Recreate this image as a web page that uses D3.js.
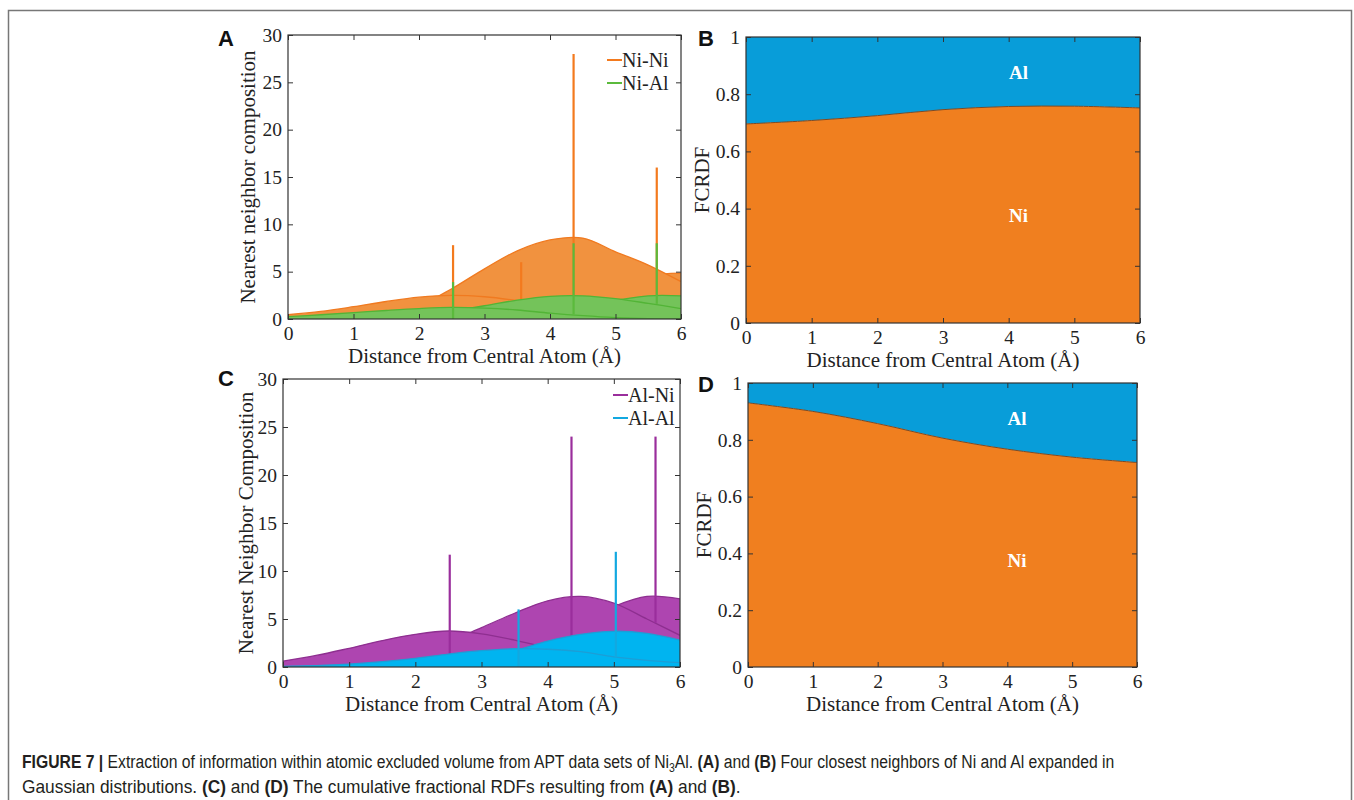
<!DOCTYPE html>
<html>
<head>
<meta charset="utf-8">
<script src="https://cdn.jsdelivr.net/npm/d3@7/dist/d3.min.js"></script>
<style>
body{margin:0;background:#fff;}
</style>
</head>
<body>
<script>
// shared x grid for the Gaussian shells (Angstrom)
var xGrid = [0,0.5,1,1.5,2,2.5,3,3.5,4,4.5,5,5.5,6];
var xTicks = [0,1,2,3,4,5,6];
var yTicksNN = [0,5,10,15,20,25,30];
var yTicksF = [0,0.2,0.4,0.6,0.8,1];

// panel A - one array per Gaussian shell
var niNi = [
  [0.45,0.8,1.3,1.85,2.3,2.5,2.35,1.95,1.4,0.9,0.5,0.25,0.1],
  [0,0.05,0.2,0.55,1.4,3.2,5.3,7.2,8.35,8.55,7.1,5.7,3.95],
  [0,0,0,0,0,0.05,0.2,0.6,1.4,2.6,3.7,4.6,4.85]
];
var niAl = [
  [0.25,0.45,0.67,0.9,1.1,1.22,1.15,0.95,0.62,0.35,0.15,0.05,0.02],
  [0,0.02,0.05,0.15,0.4,0.85,1.4,2.0,2.4,2.45,2.15,1.65,1.1],
  [0,0,0,0,0.02,0.08,0.15,0.3,0.75,1.3,1.95,2.45,2.45]
];
var niNiStemX = [2.52,3.56,4.36,5.63], niNiStemTop = [7.8,6,28,16], niNiStemBase = [0,0,0,0];
var niAlStemX = [2.52,4.36,5.63], niAlStemTop = [3.9,8,8], niAlStemBase = [0,0.5,1.6];

// panel C
var alNi = [
  [0.62,1.2,1.95,2.75,3.4,3.75,3.45,2.8,2.0,1.3,0.75,0.4,0.2],
  [0,0.05,0.15,0.5,1.3,2.6,4.1,5.6,6.9,7.35,6.65,5.0,3.3],
  [0,0,0,0,0.05,0.3,0.8,1.5,2.9,4.6,6.3,7.35,7.1]
];
var alAl = [
  [0.05,0.15,0.3,0.55,0.9,1.35,1.7,1.9,1.85,1.6,1.05,0.7,0.45],
  [0,0,0,0.02,0.1,0.4,0.95,1.7,2.7,3.4,3.72,3.5,2.8]
];
var alNiStemX = [2.52,4.36,5.63], alNiStemTop = [11.7,24,24], alNiStemBase = [1.3,3.2,4.6];
var alAlStemX = [3.56,5.03], alAlStemTop = [6,12], alAlStemBase = [0,1.0];

// panels B and D - cumulative fractional RDF, Ni share
var fX = [0,1,2,3,4,5,6];
var niFracB = [0.696,0.708,0.725,0.746,0.757,0.758,0.752];
var niFracD = [0.930,0.900,0.857,0.806,0.767,0.739,0.720];
var regionLabelX = 4.15, alLabelY = 0.875, niLabelY = 0.375;

var SERIF = "'Liberation Serif','Times New Roman',serif";
var SANS = "'Liberation Sans',Arial,sans-serif";

var W = 1354, H = 800;
var svg = d3.select("body").append("svg").attr("width",W).attr("height",H);

// figure frame
svg.append("path").attr("d","M8.5,805V10.5H1351.5V805").attr("fill","none")
  .attr("stroke","#777").attr("stroke-width",1.5);

function frame(g, x, y, yTicks, w, h){
  var fmt = function(d){ return String(d); };
  g.append("g").attr("transform","translate(0,"+h+")")
    .call(d3.axisBottom(x).tickValues(xTicks).tickFormat(fmt).tickSizeInner(-5).tickSizeOuter(0).tickPadding(7));
  g.append("g").call(d3.axisTop(x).tickValues(xTicks).tickFormat("").tickSizeInner(-5).tickSizeOuter(0));
  g.append("g").call(d3.axisLeft(y).tickValues(yTicks).tickFormat(fmt).tickSizeInner(-5).tickSizeOuter(0).tickPadding(6));
  g.append("g").attr("transform","translate("+w+",0)")
    .call(d3.axisRight(y).tickValues(yTicks).tickFormat("").tickSizeInner(-5).tickSizeOuter(0));
  g.selectAll(".domain").remove();
  g.selectAll(".tick line").attr("stroke","#333");
  g.selectAll(".tick text").style("font-family",SERIF).style("font-size","19.5px").attr("fill","#222");
  g.append("rect").attr("width",w).attr("height",h).attr("fill","none").attr("stroke","#333").attr("stroke-width",1.2);
}

function titles(g, w, h, ytitle, ytx){
  g.append("text").attr("x",w/2).attr("y",h+44).attr("text-anchor","middle")
    .style("font-family",SERIF).style("font-size","21px").attr("fill","#222").text("Distance from Central Atom (Å)");
  g.append("text").attr("transform","translate("+ytx+","+(h/2)+") rotate(-90)")
    .attr("text-anchor","middle").attr("dy","0.35em").style("font-family",SERIF).style("font-size","21px")
    .attr("fill","#222").text(ytitle);
}

function letter(label, lx, ly){
  svg.append("text").attr("x",lx).attr("y",ly).style("font-family",SANS)
    .style("font-weight","bold").style("font-size","22px").attr("fill","#111").text(label);
}

var clipN = 0;
function shells(g, x, y, series, fill, line){
  var area = d3.area().x(function(d,i){return x(xGrid[i]);}).y0(y(0)).y1(function(d){return y(d);}).curve(d3.curveCatmullRom);
  var ln = d3.line().x(function(d,i){return x(xGrid[i]);}).y(function(d){return y(d);}).curve(d3.curveCatmullRom);
  // far shells first so the nearer shell lines stay visible on top
  series.slice().reverse().forEach(function(s){
    g.append("path").attr("d",area(s)).attr("fill",fill);
    g.append("path").attr("d",ln(s)).attr("fill","none").attr("stroke",line).attr("stroke-width",1.3);
  });
}
function stems(g, x, y, sx, top, base, col){
  g.selectAll(null).data(sx).enter().append("line")
    .attr("x1",function(d){return x(d);}).attr("x2",function(d){return x(d);})
    .attr("y1",function(d,i){return y(base[i]);}).attr("y2",function(d,i){return y(top[i]);})
    .attr("stroke",col).attr("stroke-width",2.2);
}
function legend(g, names, cols, lx, ly){
  names.forEach(function(n,i){
    g.append("line").attr("x1",lx).attr("x2",lx+15).attr("y1",ly+i*23).attr("y2",ly+i*23)
      .attr("stroke",cols[i]).attr("stroke-width",2);
    g.append("text").attr("x",lx+15).attr("y",ly+i*23).attr("dy","0.35em")
      .style("font-family",SERIF).style("font-size","20px").attr("fill","#222").text(n);
  });
}
function clipped(g, w, h){
  var id = "clip"+(clipN++);
  g.append("clipPath").attr("id",id).append("rect").attr("width",w).attr("height",h);
  return g.append("g").attr("clip-path","url(#"+id+")");
}

// ---------- panel A ----------
(function(){
  var L=288,T=35,w=393,h=284;
  var g = svg.append("g").attr("transform","translate("+L+","+T+")");
  var x = d3.scaleLinear().domain([0,6]).range([0,w]);
  var y = d3.scaleLinear().domain([0,30]).range([h,0]);
  var p = clipped(g,w,h);
  shells(p,x,y,niNi,"#F1923F","#F07A20");
  stems(p,x,y,niNiStemX,niNiStemTop,niNiStemBase,"#F37A1E");
  shells(p,x,y,niAl,"#74C35A","#52B436");
  stems(p,x,y,niAlStemX,niAlStemTop,niAlStemBase,"#5BBA3C");
  frame(g,x,y,yTicksNN,w,h);
  titles(g,w,h,"Nearest neighbor composition",-40);
  legend(g,["Ni-Ni","Ni-Al"],["#F37A1E","#5BBA3C"],319,25);
  letter("A",218,46);
})();

// ---------- panel C ----------
(function(){
  var L=283,T=379,w=397,h=288;
  var g = svg.append("g").attr("transform","translate("+L+","+T+")");
  var x = d3.scaleLinear().domain([0,6]).range([0,w]);
  var y = d3.scaleLinear().domain([0,30]).range([h,0]);
  var p = clipped(g,w,h);
  shells(p,x,y,alNi,"#AE45B0","#8E2F90");
  stems(p,x,y,alNiStemX,alNiStemTop,alNiStemBase,"#9A2E9C");
  shells(p,x,y,alAl,"#00B4F0","#1C9ED6");
  stems(p,x,y,alAlStemX,alAlStemTop,alAlStemBase,"#12A8E0");
  frame(g,x,y,yTicksNN,w,h);
  titles(g,w,h,"Nearest Neighbor Composition",-37);
  legend(g,["Al-Ni","Al-Al"],["#9A2E9C","#12A8E0"],330,16);
  letter("C",218,386);
})();

// ---------- panels B and D ----------
function fracPanel(L,T,w,h,frac,lab){
  var g = svg.append("g").attr("transform","translate("+L+","+T+")");
  var x = d3.scaleLinear().domain([0,6]).range([0,w]);
  var y = d3.scaleLinear().domain([0,1]).range([h,0]);
  var p = clipped(g,w,h);
  var alArea = d3.area().x(function(d,i){return x(fX[i]);}).y0(function(d){return y(d);}).y1(y(1)).curve(d3.curveCatmullRom);
  var niArea = d3.area().x(function(d,i){return x(fX[i]);}).y0(y(0)).y1(function(d){return y(d);}).curve(d3.curveCatmullRom);
  var edge = d3.line().x(function(d,i){return x(fX[i]);}).y(function(d){return y(d);}).curve(d3.curveCatmullRom);
  p.append("path").attr("d",alArea(frac)).attr("fill","#089DD9");
  p.append("path").attr("d",niArea(frac)).attr("fill","#F07F1F");
  p.append("path").attr("d",edge(frac)).attr("fill","none").attr("stroke","#7a4a25").attr("stroke-width",1);
  [["Al",alLabelY],["Ni",niLabelY]].forEach(function(t){
    g.append("text").attr("x",x(regionLabelX)).attr("y",y(t[1])).attr("dy","0.35em")
      .attr("text-anchor","middle").style("font-family",SERIF).style("font-weight","bold")
      .style("font-size","19px").attr("fill","#fff").text(t[0]);
  });
  frame(g,x,y,yTicksF,w,h);
  titles(g,w,h,"FCRDF",-44);
  letter(lab,698,T+9);
}
fracPanel(746,37,394,286,niFracB,"B");
fracPanel(748,383,389,284,niFracD,"D");

// ---------- caption ----------
function captionLine(yb, target, parts){
  var g = svg.append("g").attr("transform","translate(22,0)");
  var t = g.append("text").attr("x",0).attr("y",yb).style("font-family",SANS)
    .style("font-size","18px").attr("fill","#231F20");
  parts.forEach(function(p){
    var s = t.append("tspan").text(p[0]);
    if (p[1] === "b") s.style("font-weight","bold");
    if (p[1] === "sub") s.style("font-size","12px").attr("dy",4);
    if (p[1] === "up") s.attr("dy",-4);
  });
  // the printed caption uses a condensed face, squeeze to the same width
  var len = t.node().getComputedTextLength();
  t.attr("transform","scale("+(target/len)+",1)");
}
captionLine(768,1093,[["FIGURE 7 |","b"],[" Extraction of information within atomic excluded volume from APT data sets of Ni"],
  ["3","sub"],["Al. ","up"],["(A)","b"],[" and "],["(B)","b"],[" Four closest neighbors of Ni and Al expanded in"]]);
captionLine(793,719,[["Gaussian distributions. "],["(C)","b"],[" and "],["(D)","b"],
  [" The cumulative fractional RDFs resulting from "],["(A)","b"],[" and "],["(B)","b"],["."]]);
</script>
</body>
</html>
